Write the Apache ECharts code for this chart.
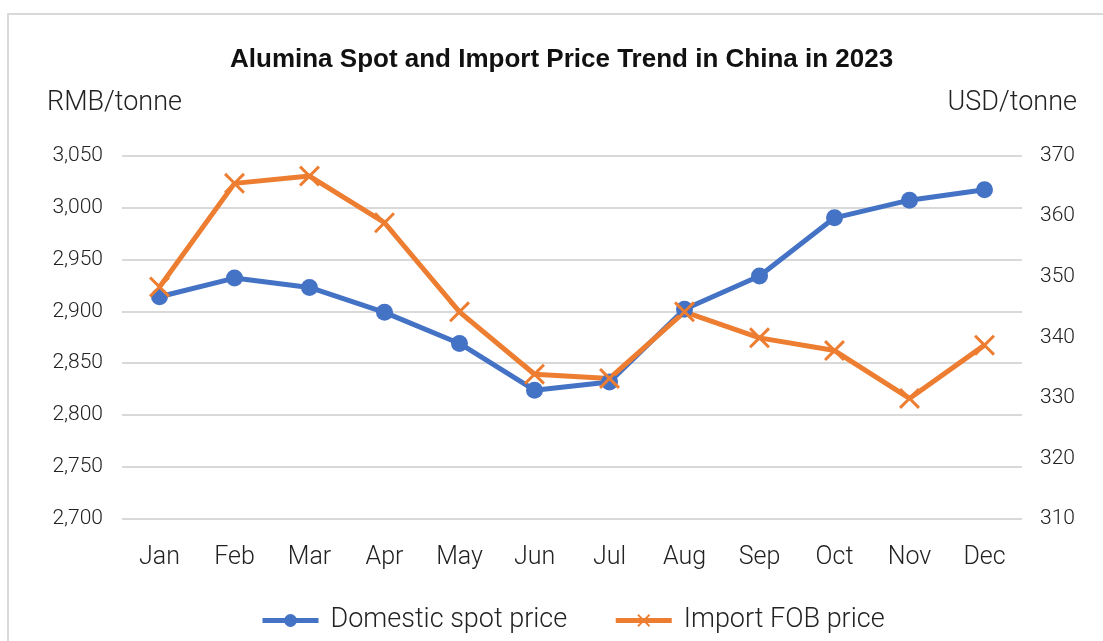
<!DOCTYPE html>
<html>
<head>
<meta charset="utf-8">
<script src="https://cdn.jsdelivr.net/npm/echarts@6/dist/echarts.min.js"></script>
<style>
  html, body { margin: 0; padding: 0; background: #fff; }
  #main { width: 1103px; height: 641px; }
</style>
</head>
<body>
<div id="main"></div>
<script>
var months = ['Jan', 'Feb', 'Mar', 'Apr', 'May', 'Jun', 'Jul', 'Aug', 'Sep', 'Oct', 'Nov', 'Dec'];
// RMB/tonne, left axis
var domesticSpot = [2914, 2932, 2923, 2899, 2869, 2824, 2832, 2902, 2934, 2990, 3007, 3017];
// USD/tonne, right axis
var importFob = [348.3, 365.4, 366.6, 358.9, 344.2, 333.9, 333.2, 344.2, 339.9, 337.8, 329.9, 338.7];

var fontFam = 'Roboto, "Liberation Sans", sans-serif';
var crossPath = 'path://M0,1L1,0L5,4L9,0L10,1L6,5L10,9L9,10L5,6L1,10L0,9L4,5Z';

var myChart = echarts.init(document.getElementById('main'));

var fmt = function (v) {
  return String(v).replace(/\B(?=(\d{3})+(?!\d))/g, ',');
};

myChart.setOption({
  animation: false,
  title: {
    text: 'Alumina Spot and Import Price Trend in China in 2023',
    left: 225,
    top: 42,
    textStyle: { fontFamily: '"Liberation Sans", Arial, sans-serif', fontSize: 26, fontWeight: 'bold', color: '#111' }
  },
  graphic: [
    { type: 'rect', shape: { x: 8, y: 14, width: 1110, height: 650 }, style: { fill: 'none', stroke: '#d9d9d9', lineWidth: 2 }, silent: true },
    { type: 'text', left: 47, top: 90, style: { text: 'RMB/tonne', fontFamily: fontFam, fontSize: 27, fontWeight: 300, fill: '#222' } },
    { type: 'text', right: 26, top: 90, style: { text: 'USD/tonne', fontFamily: fontFam, fontSize: 27, fontWeight: 300, fill: '#222' } }
  ],
  legend: {
    left: 255,
    top: 602,
    itemWidth: 56,
    itemHeight: 16,
    itemGap: 46,
    lineStyle: { width: 5 },
    textStyle: { fontFamily: fontFam, fontSize: 27, fontWeight: 300, color: '#222', padding: [0, 0, 0, 7] },
    data: ['Domestic spot price', 'Import FOB price']
  },
  grid: { left: 122, right: 81, top: 155.5, bottom: 122 },
  xAxis: {
    type: 'category',
    data: months,
    boundaryGap: true,
    axisLine: { show: false },
    axisTick: { show: false },
    axisLabel: { margin: 26, fontFamily: fontFam, fontSize: 25, fontWeight: 300, color: '#222' }
  },
  yAxis: [
    {
      type: 'value',
      min: 2700,
      max: 3050,
      interval: 50,
      axisLine: { show: false },
      axisTick: { show: false },
      splitLine: { lineStyle: { color: '#d9d9d9', width: 2 } },
      axisLabel: { margin: 19, fontFamily: fontFam, fontSize: 21, fontWeight: 300, color: '#222', formatter: fmt }
    },
    {
      type: 'value',
      min: 310,
      max: 370,
      interval: 10,
      position: 'right',
      axisLine: { show: false },
      axisTick: { show: false },
      splitLine: { show: false },
      axisLabel: { margin: 18, fontFamily: fontFam, fontSize: 21, fontWeight: 300, color: '#222' }
    }
  ],
  series: [
    {
      name: 'Domestic spot price',
      type: 'line',
      yAxisIndex: 0,
      data: domesticSpot,
      symbol: 'circle',
      symbolSize: 17,
      itemStyle: { color: '#4472C4' },
      lineStyle: { color: '#4472C4', width: 5 }
    },
    {
      name: 'Import FOB price',
      type: 'line',
      yAxisIndex: 1,
      data: importFob,
      symbol: crossPath,
      symbolSize: 21,
      itemStyle: { color: '#ED7D31' },
      lineStyle: { color: '#ED7D31', width: 5 }
    }
  ]
});
</script>
</body>
</html>
